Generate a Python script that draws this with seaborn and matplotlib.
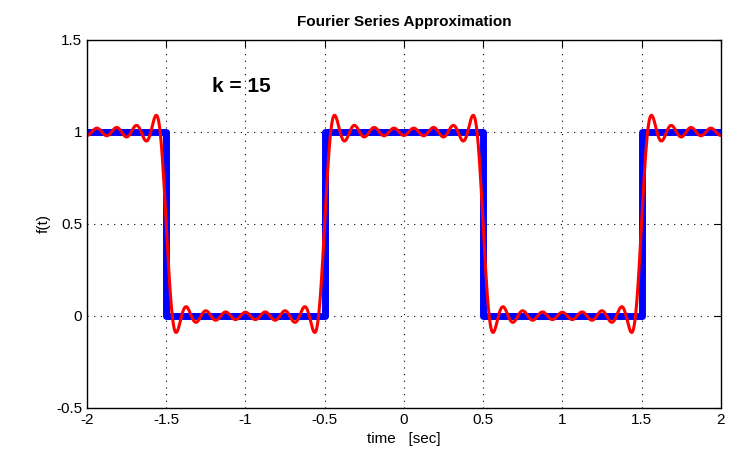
import numpy as np
import pandas as pd
import matplotlib
matplotlib.use("Agg")
import matplotlib.pyplot as plt
import seaborn as sns

# square wave corners
square_t = [-2.0, -1.5, -1.5, -0.5, -0.5, 0.5, 0.5, 1.5, 1.5, 2.0]
square_f = [1, 1, 0, 0, 1, 1, 0, 0, 1, 1]

# Fourier coefficients (odd cosine harmonics up to k = 15)
dc_term = 0.5
harmonics = [1, 3, 5, 7, 9, 11, 13, 15]
amplitudes = [0.6366, -0.2122, 0.1273, -0.0909, 0.0707, -0.0579, 0.0490, -0.0424]

x_ticks = [-2, -1.5, -1, -0.5, 0, 0.5, 1, 1.5, 2]
y_ticks = [-0.5, 0, 0.5, 1, 1.5]

t = np.linspace(-2, 2, 2001)
approx = dc_term + sum(a * np.cos(n * np.pi * t) for n, a in zip(harmonics, amplitudes))

sq = pd.DataFrame({"t": square_t, "f": square_f})
fs = pd.DataFrame({"t": t, "f": approx})

sns.set_style("white")
plt.rcParams["font.family"] = ["Liberation Sans", "DejaVu Sans"]
plt.rcParams["text.color"] = "black"
plt.rcParams["axes.labelcolor"] = "black"

fig = plt.figure(figsize=(7.31, 4.63), dpi=100)
ax = fig.add_axes([0.119, 0.119, 0.867, 0.795])

sns.lineplot(data=sq, x="t", y="f", sort=False, estimator=None, color="#0000ff", linewidth=5, ax=ax)
sns.lineplot(data=fs, x="t", y="f", sort=False, estimator=None, color="#ff0000", linewidth=2.2, ax=ax)

ax.set_xlim(-2, 2)
ax.set_ylim(-0.5, 1.5)
ax.set_xticks(x_ticks)
ax.set_xticklabels([f"{v:g}" for v in x_ticks])
ax.set_yticks(y_ticks)
ax.set_yticklabels([f"{v:g}" for v in y_ticks])
ax.grid(True, color="black", linestyle=(0, (1, 5)), linewidth=0.8)
ax.tick_params(direction="in", length=5, top=True, right=True, labelsize=11, colors="black")
for s in ax.spines.values():
    s.set_visible(True)
    s.set_color("black")
    s.set_linewidth(1)

ax.set_xlabel("time   [sec]", fontsize=11)
ax.set_ylabel("f(t)", fontsize=11)
ax.set_title("Fourier Series Approximation", fontsize=11, fontweight="bold", pad=10)
ax.text(-1.21, 1.245, "k = 15", fontsize=15, fontweight="bold", va="center", ha="left")

fig.savefig("out.png", dpi=100)
